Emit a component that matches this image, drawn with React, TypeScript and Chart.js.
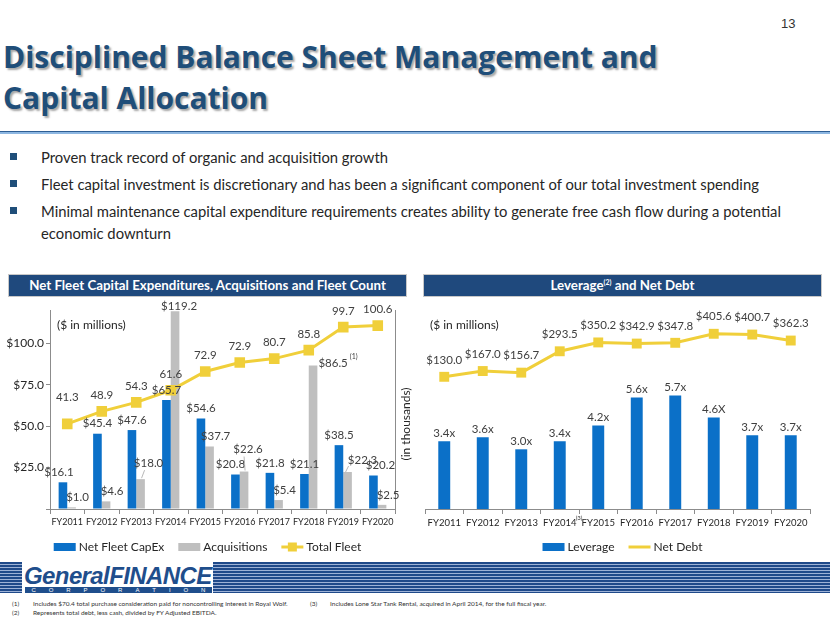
import React, { useEffect, useRef } from "react";
import { Chart, registerables } from "chart.js";

Chart.register(...registerables);

// ---------- data ----------
const categories = ["FY2011", "FY2012", "FY2013", "FY2014", "FY2015", "FY2016", "FY2017", "FY2018", "FY2019", "FY2020"];
const netFleetCapex = [16.1, 45.4, 47.6, 65.7, 54.6, 20.8, 21.8, 21.1, 38.5, 20.2];
const acquisitions = [1.0, 4.6, 18.0, 119.2, 37.7, 22.6, 5.4, 86.5, 22.3, 2.5];
const totalFleet = [41.3, 48.9, 54.3, 61.6, 72.9, 78.3, 80.7, 85.8, 99.7, 100.6];
const totalFleetLabels = ["41.3", "48.9", "54.3", "61.6", "72.9", "72.9", "80.7", "85.8", "99.7", "100.6"];
const leftTickValues = [0, 25, 50, 75, 100];

const leverage = [3.4, 3.6, 3.0, 3.4, 4.2, 5.6, 5.7, 4.6, 3.7, 3.7];
const leverageLabels = ["3.4x", "3.6x", "3.0x", "3.4x", "4.2x", "5.6x", "5.7x", "4.6X", "3.7x", "3.7x"];
const netDebt = [130.0, 167.0, 156.7, 293.5, 350.2, 342.9, 347.8, 405.6, 400.7, 362.3];

const bullets = [
  "Proven track record of organic and acquisition growth",
  "Fleet capital investment is discretionary and has been a significant component of our total investment spending",
  "Minimal maintenance capital expenditure requirements creates ability to generate free cash flow during a potential\neconomic downturn",
];

// ---------- styles ----------
const FONT = "Lato, 'Open Sans', sans-serif";
const BLUE = "#0B70C8";
const GRAY = "#BFBFBF";
const YELLOW = "#F0CF3A";
const LABEL = "#404040";
const AXIS = "#8C8C8C";
const NAVY = "#1F4E79";
const LABEL_SIZE = 11.5;

const capexShift: Record<number, number> = { 0: -4, 5: -5, 9: 7 };

const legendPlugin = {
  id: "slideLegend",
  afterDraw(chart: any) {
    const ctx = chart.ctx;
    const y = chart.height - 13;
    ctx.save();
    ctx.font = `12px ${FONT}`;
    ctx.textBaseline = "middle";
    ctx.textAlign = "left";
    const boxW = 22, gap = 3, spacing = 14;
    const items = chart.data.datasets.map((ds: any) => ({
      label: ds.label,
      isLine: ds.type === "line",
      color: ds.type === "line" ? ds.borderColor : ds.backgroundColor,
      marker: ds.type === "line" && ds.legendMarker !== false,
      w: ctx.measureText(ds.label).width,
    }));
    const total = items.reduce((s: number, it: any) => s + boxW + gap + it.w, 0) + spacing * (items.length - 1);
    let x = (chart.width - total) / 2;
    for (const it of items) {
      if (it.isLine) {
        ctx.strokeStyle = it.color;
        ctx.lineWidth = 3;
        ctx.beginPath();
        ctx.moveTo(x, y);
        ctx.lineTo(x + boxW, y);
        ctx.stroke();
        if (it.marker) {
          ctx.fillStyle = it.color;
          ctx.fillRect(x + boxW / 2 - 4.5, y - 4.5, 9, 9);
        }
      } else {
        ctx.fillStyle = it.color;
        ctx.fillRect(x, y - 4, boxW, 8);
      }
      ctx.fillStyle = "#262626";
      ctx.fillText(it.label, x + boxW + gap, y);
      x += boxW + gap + it.w + spacing;
    }
    ctx.restore();
  },
};

const leftLabelsPlugin = {
  id: "leftLabels",
  afterDatasetsDraw(chart: any) {
    const ctx = chart.ctx;
    const f = `${LABEL_SIZE}px ${FONT}`;
    ctx.save();
    ctx.font = f;
    ctx.fillStyle = LABEL;
    ctx.textBaseline = "middle";
    ctx.textAlign = "center";
    const capexEls = chart.getDatasetMeta(0).data;
    capexEls.forEach((bar: any, i: number) => {
      const dx = capexShift[i] || 0;
      ctx.fillText("$" + netFleetCapex[i].toFixed(1), bar.x + dx, bar.y - 10);
    });
    const acqEls = chart.getDatasetMeta(1).data;
    acqEls.forEach((bar: any, i: number) => {
      const t = "$" + acquisitions[i].toFixed(1);
      let lx = bar.x + 6;
      let ly = bar.y - 10;
      let leader = false;
      if (i === 2) { lx = bar.x + 8; ly = bar.y - 16; leader = true; }
      if (i === 3) { lx = bar.x + 4; ly = bar.y - 5; }
      if (i === 5) { lx = bar.x + 4; ly = bar.y - 22; leader = true; }
      if (i === 8) { lx = bar.x + 15; ly = bar.y - 12; leader = true; }
      if (i === 7) {
        ctx.textAlign = "left";
        const sx = bar.x + bar.width / 2 + 1;
        ctx.fillText(t, sx, bar.y - 2);
        const w = ctx.measureText(t).width;
        ctx.font = `7px ${FONT}`;
        ctx.fillText("(1)", sx + w + 2, bar.y - 9);
        ctx.font = f;
        ctx.textAlign = "center";
        return;
      }
      ctx.fillText(t, lx, ly);
      if (leader) {
        ctx.strokeStyle = "#A6A6A6";
        ctx.lineWidth = 0.8;
        ctx.beginPath();
        if (i === 8) {
          ctx.moveTo(bar.x - 2, bar.y);
          ctx.lineTo(lx - 14, ly + 6);
        } else {
          ctx.moveTo(bar.x + 1, bar.y - 1);
          ctx.lineTo(lx - 4, ly + 7);
        }
        ctx.stroke();
      }
    });
    const fleetEls = chart.getDatasetMeta(2).data;
    fleetEls.forEach((pt: any, i: number) => {
      const dy = i === 0 ? 27 : 16;
      ctx.fillText(totalFleetLabels[i], pt.x, pt.y - dy);
    });
    // right axis title
    ctx.save();
    ctx.translate(406, 124);
    ctx.rotate(-Math.PI / 2);
    ctx.fillStyle = "#262626";
    ctx.font = `12px ${FONT}`;
    ctx.fillText("(in thousands)", 0, 0);
    ctx.restore();
    ctx.restore();
  },
};

const rightLabelsPlugin = {
  id: "rightLabels",
  afterDatasetsDraw(chart: any) {
    const ctx = chart.ctx;
    ctx.save();
    ctx.font = `${LABEL_SIZE}px ${FONT}`;
    ctx.fillStyle = LABEL;
    ctx.textBaseline = "middle";
    ctx.textAlign = "center";
    chart.getDatasetMeta(0).data.forEach((bar: any, i: number) => {
      ctx.fillText(leverageLabels[i], bar.x, bar.y - 8);
    });
    chart.getDatasetMeta(1).data.forEach((pt: any, i: number) => {
      ctx.fillText("$" + netDebt[i].toFixed(1), pt.x, pt.y - 17);
    });
    const xs = chart.scales.x;
    ctx.font = `6px ${FONT}`;
    ctx.fillStyle = "#333";
    ctx.textAlign = "left";
    ctx.fillText("(3)", xs.getPixelForValue(3) + 16, xs.top + 9);
    ctx.restore();
  },
};

const makeXAxis = (size: number) => ({
  grid: { display: true, drawOnChartArea: false, tickLength: 5, color: AXIS, offset: true },
  border: { color: AXIS },
  ticks: { font: { family: FONT, size }, color: "#262626", padding: 3, maxRotation: 0, autoSkip: false },
  afterFit: (s: any) => { s.height = 25; },
});

function LeftChart() {
  const ref = useRef<HTMLCanvasElement>(null);
  useEffect(() => {
    const chart = new Chart(ref.current!, {
      type: "bar",
      data: {
        labels: categories,
        datasets: [
          { type: "bar", label: "Net Fleet CapEx", data: netFleetCapex, backgroundColor: BLUE, yAxisID: "y", order: 2, categoryPercentage: 0.5, barPercentage: 1 } as any,
          { type: "bar", label: "Acquisitions", data: acquisitions, backgroundColor: GRAY, yAxisID: "y", order: 2, categoryPercentage: 0.5, barPercentage: 1 } as any,
          { type: "line", label: "Total Fleet", data: totalFleet, borderColor: YELLOW, backgroundColor: YELLOW, borderWidth: 3, pointStyle: "rect", pointRadius: 7.5, pointBackgroundColor: YELLOW, pointBorderWidth: 0, yAxisID: "y1", order: 1, tension: 0 } as any,
        ],
      },
      options: {
        responsive: false,
        animation: false,
        devicePixelRatio: 1,
        layout: { padding: { top: 10, bottom: 26, left: 0, right: 0 } },
        plugins: { legend: { display: false }, tooltip: { enabled: false } },
        scales: {
          x: makeXAxis(9) as any,
          y: {
            position: "left",
            min: 0,
            max: 120,
            afterBuildTicks: (s: any) => { s.ticks = leftTickValues.map((v) => ({ value: v })); },
            ticks: { callback: (v: any) => (v === 0 ? "" : "$" + Number(v).toFixed(1)), font: { family: FONT, size: 12 }, color: "#262626", padding: 2 },
            grid: { drawOnChartArea: false, tickLength: 4, color: AXIS },
            border: { color: AXIS },
            afterFit: (s: any) => { s.width = 50; },
          } as any,
          y1: {
            position: "right",
            min: -10,
            max: 110,
            ticks: { display: false },
            grid: { display: false },
            border: { display: true, color: AXIS },
            afterFit: (s: any) => { s.width = 20; },
          } as any,
        },
      },
      plugins: [leftLabelsPlugin, legendPlugin],
    });
    return () => chart.destroy();
  }, []);
  return <canvas ref={ref} width={415} height={260} style={{ position: "absolute", left: 0, top: 300 }} />;
}

function RightChart() {
  const ref = useRef<HTMLCanvasElement>(null);
  useEffect(() => {
    const chart = new Chart(ref.current!, {
      type: "bar",
      data: {
        labels: categories,
        datasets: [
          { type: "bar", label: "Leverage", data: leverage, backgroundColor: BLUE, yAxisID: "y", order: 2, categoryPercentage: 1, barPercentage: 0.31 } as any,
          { type: "line", label: "Net Debt", data: netDebt, borderColor: YELLOW, backgroundColor: YELLOW, borderWidth: 3, pointStyle: "rect", pointRadius: 7, pointBackgroundColor: YELLOW, pointBorderWidth: 0, yAxisID: "y1", order: 1, tension: 0, legendMarker: false } as any,
        ],
      },
      options: {
        responsive: false,
        animation: false,
        devicePixelRatio: 1,
        layout: { padding: { top: 10, bottom: 26, left: 10, right: 20 } },
        plugins: { legend: { display: false }, tooltip: { enabled: false } },
        scales: {
          x: makeXAxis(9.5) as any,
          y: { display: false, min: 0, max: 10 },
          y1: { display: false, min: -717, max: 558 },
        },
      },
      plugins: [rightLabelsPlugin, { ...legendPlugin, id: "slideLegend2" }],
    });
    return () => chart.destroy();
  }, []);
  return <canvas ref={ref} width={415} height={260} style={{ position: "absolute", left: 415, top: 300 }} />;
}

const abs = (o: React.CSSProperties): React.CSSProperties => ({ position: "absolute", ...o });

export default function App() {
  const bulletTops = [146, 173, 200];
  const headerStyle: React.CSSProperties = {
    top: 274, width: 399, height: 23, background: "#1F497D", border: "1px solid #C8C8C8", boxSizing: "border-box",
    color: "#fff", fontWeight: 700, fontSize: 13.3, lineHeight: "21px", textAlign: "center", whiteSpace: "nowrap",
  };
  const note: React.CSSProperties = { fontSize: 6.5, lineHeight: "9px", color: "#333", whiteSpace: "nowrap" };
  return (
    <div style={abs({ left: 0, top: 0, width: 830, height: 623, background: "#fff", overflow: "hidden", fontFamily: FONT })}>
      <div style={abs({ left: 781, top: 16, fontSize: 13, color: "#333", fontFamily: "'Liberation Sans Narrow', 'Liberation Sans', sans-serif" })}>13</div>
      <div
        style={abs({
          left: 3,
          top: 36,
          fontSize: 30,
          fontWeight: 700,
          lineHeight: "41px",
          color: NAVY,
          fontFamily: "'Open Sans', sans-serif",
          textShadow: "2px 2px 2px rgba(0,0,0,0.35)",
          whiteSpace: "nowrap",
        })}
      >
        Disciplined Balance Sheet Management and
        <br />
        Capital Allocation
      </div>
      <div style={abs({ left: 0, top: 131, width: 830, height: 1, background: "#2E5E94" })} />
      <div style={abs({ left: 0, top: 132, width: 830, height: 2, background: "#8DB7E2" })} />
      {bullets.map((b, i) => (
        <React.Fragment key={i}>
          <div style={abs({ left: 10, top: bulletTops[i] + 7, width: 7, height: 7, background: NAVY })} />
          <div style={abs({ left: 41, top: bulletTops[i], fontSize: 14.8, lineHeight: "22px", color: "#262626", whiteSpace: "pre" })}>{b}</div>
        </React.Fragment>
      ))}
      <div style={abs({ ...headerStyle, left: 8 })}>Net Fleet Capital Expenditures, Acquisitions and Fleet Count</div>
      <div style={abs({ ...headerStyle, left: 423 })}>
        Leverage<sup style={{ fontSize: 7, verticalAlign: "top", lineHeight: "14px" }}>(2)</sup> and Net Debt
      </div>
      <LeftChart />
      <RightChart />
      <div style={abs({ left: 57, top: 317, fontSize: 12, color: "#262626" })}>($ in millions)</div>
      <div style={abs({ left: 430, top: 317, fontSize: 12, color: "#262626" })}>($ in millions)</div>
      {/* footer band */}
      <div style={abs({ left: 0, top: 562, width: 830, height: 31, background: "repeating-linear-gradient(to bottom, #1F4A8A 0px, #1F4A8A 2px, #9DB2D6 2px, #9DB2D6 3px)" })} />
      <div style={abs({ left: 22, top: 562, width: 191, height: 31, background: "#fff" })} />
      <div style={abs({ left: 24, top: 564, fontSize: 24, fontWeight: 700, fontStyle: "italic", color: "#1F4E8C", fontFamily: "'Liberation Sans', Arial, sans-serif", letterSpacing: "-0.6px", lineHeight: "24px", whiteSpace: "nowrap" })}>
        GeneralFINANCE
      </div>
      <div style={abs({ left: 25, top: 587, width: 187, height: 6, background: "#1F4E8C", display: "flex", justifyContent: "space-around", alignItems: "center", color: "#fff", fontSize: 6, lineHeight: "6px", fontFamily: "'Liberation Sans', Arial, sans-serif" })}>
        {"CORPORATION".split("").map((c, i) => (
          <span key={i}>{c}</span>
        ))}
      </div>
      <div style={abs({ ...note, left: 12, top: 599 })}>(1)</div>
      <div style={abs({ ...note, left: 33, top: 599 })}>Includes $70.4 total purchase consideration paid for noncontrolling interest in Royal Wolf.</div>
      <div style={abs({ ...note, left: 12, top: 608 })}>(2)</div>
      <div style={abs({ ...note, left: 33, top: 608 })}>Represents total debt, less cash, divided by FY Adjusted EBITDA.</div>
      <div style={abs({ ...note, left: 310, top: 599 })}>(3)</div>
      <div style={abs({ ...note, left: 330, top: 599 })}>Includes Lone Star Tank Rental, acquired in April 2014, for the full fiscal year.</div>
    </div>
  );
}
